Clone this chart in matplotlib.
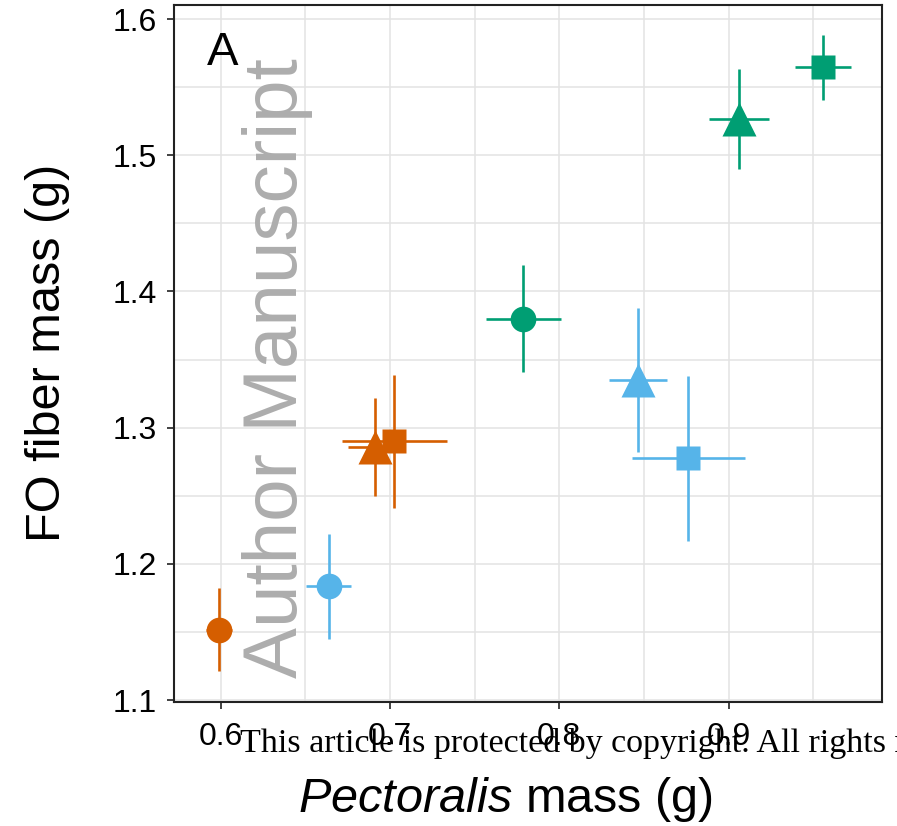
import matplotlib
matplotlib.use("Agg")
import matplotlib.pyplot as plt
from matplotlib.ticker import MultipleLocator

# Group colours and marker shapes
groups = ["orange", "blue", "green"]
colors = {"orange": "#D55E00", "blue": "#56B4E9", "green": "#009E73"}
shapes = ["circle", "triangle", "square"]
marker_of = {"circle": "o", "triangle": "^", "square": "s"}

# Pectoralis mass (g): means and error half-widths, per group, ordered circle/triangle/square
pect_mean = {
    "orange": [0.599, 0.691, 0.7026],
    "blue":   [0.6637, 0.8463, 0.8762],
    "green":  [0.7787, 0.9063, 0.9559],
}
pect_err = {
    "orange": [0.0075, 0.016, 0.031],
    "blue":   [0.0133, 0.0171, 0.0333],
    "green":  [0.0222, 0.0177, 0.0164],
}
# FO fiber mass (g): means and error half-widths
fo_mean = {
    "orange": [1.1515, 1.286, 1.290],
    "blue":   [1.1835, 1.335, 1.2775],
    "green":  [1.380, 1.5265, 1.5645],
}
fo_err = {
    "orange": [0.0305, 0.036, 0.049],
    "blue":   [0.0385, 0.053, 0.0604],
    "green":  [0.0393, 0.0368, 0.024],
}

x_ticks = [0.6, 0.7, 0.8, 0.9]
y_ticks = [1.1, 1.2, 1.3, 1.4, 1.5, 1.6]

plt.rcParams["font.family"] = ["Liberation Sans", "DejaVu Sans"]
plt.rcParams["mathtext.fontset"] = "custom"
plt.rcParams["mathtext.it"] = "Liberation Sans:italic"
plt.rcParams["mathtext.rm"] = "Liberation Sans"

fig = plt.figure(figsize=(8.97, 8.26), dpi=100)
ax = fig.add_axes([0.194, 0.1505, 0.7888, 0.8438])

msize = {"circle": 18.5, "triangle": 24, "square": 17.5}
for g in groups:
    for i, s in enumerate(shapes):
        ax.errorbar(pect_mean[g][i], fo_mean[g][i],
                    xerr=pect_err[g][i], yerr=fo_err[g][i],
                    fmt=marker_of[s], color=colors[g], ms=msize[s],
                    mec="none", elinewidth=1.9, capsize=0, zorder=3)

ax.set_xlim(0.5724, 0.9904)
ax.set_ylim(1.0988, 1.6105)
ax.set_xticks(x_ticks)
ax.set_yticks(y_ticks)
ax.set_xticklabels([f"{v:.1f}" for v in x_ticks])
ax.set_yticklabels([f"{v:.1f}" for v in y_ticks])
ax.xaxis.set_minor_locator(MultipleLocator(0.05))
ax.yaxis.set_minor_locator(MultipleLocator(0.05))
ax.grid(which="both", color="#E3E3E3", linewidth=1.1, zorder=0)
ax.set_axisbelow(True)
ax.tick_params(which="major", labelsize=23, length=5.3, width=1.3,
               color="#333333", pad=7)
ax.tick_params(axis="x", which="major", pad=9)
ax.tick_params(which="minor", length=0)
for sp in ax.spines.values():
    sp.set_linewidth(1.5)
    sp.set_color("#222222")

ax.set_ylabel("FO fiber mass (g)", fontsize=35)
ax.yaxis.set_label_coords(-0.147, 0.5)
ax.set_xlabel(r"$\it{Pectoralis}$ mass (g)", fontsize=35)
ax.xaxis.set_label_coords(0.4685, -0.105)

ax.text(0.601, 1.575, "A", fontsize=34, ha="center", va="center", zorder=5)

# Repository watermark
fig.text(0.3095, 0.554, "Author Manuscript", rotation=90, fontsize=55,
         color="#ADADAD", ha="center", va="center", zorder=10,
         fontfamily=["Liberation Sans"])
fig.text(0.268, 0.100, "This article is protected by copyright. All rights reserved",
         fontsize=24.5, color="black", ha="left", va="center",
         fontfamily=["Liberation Serif"], zorder=10)

fig.savefig("out.png", dpi=100)
